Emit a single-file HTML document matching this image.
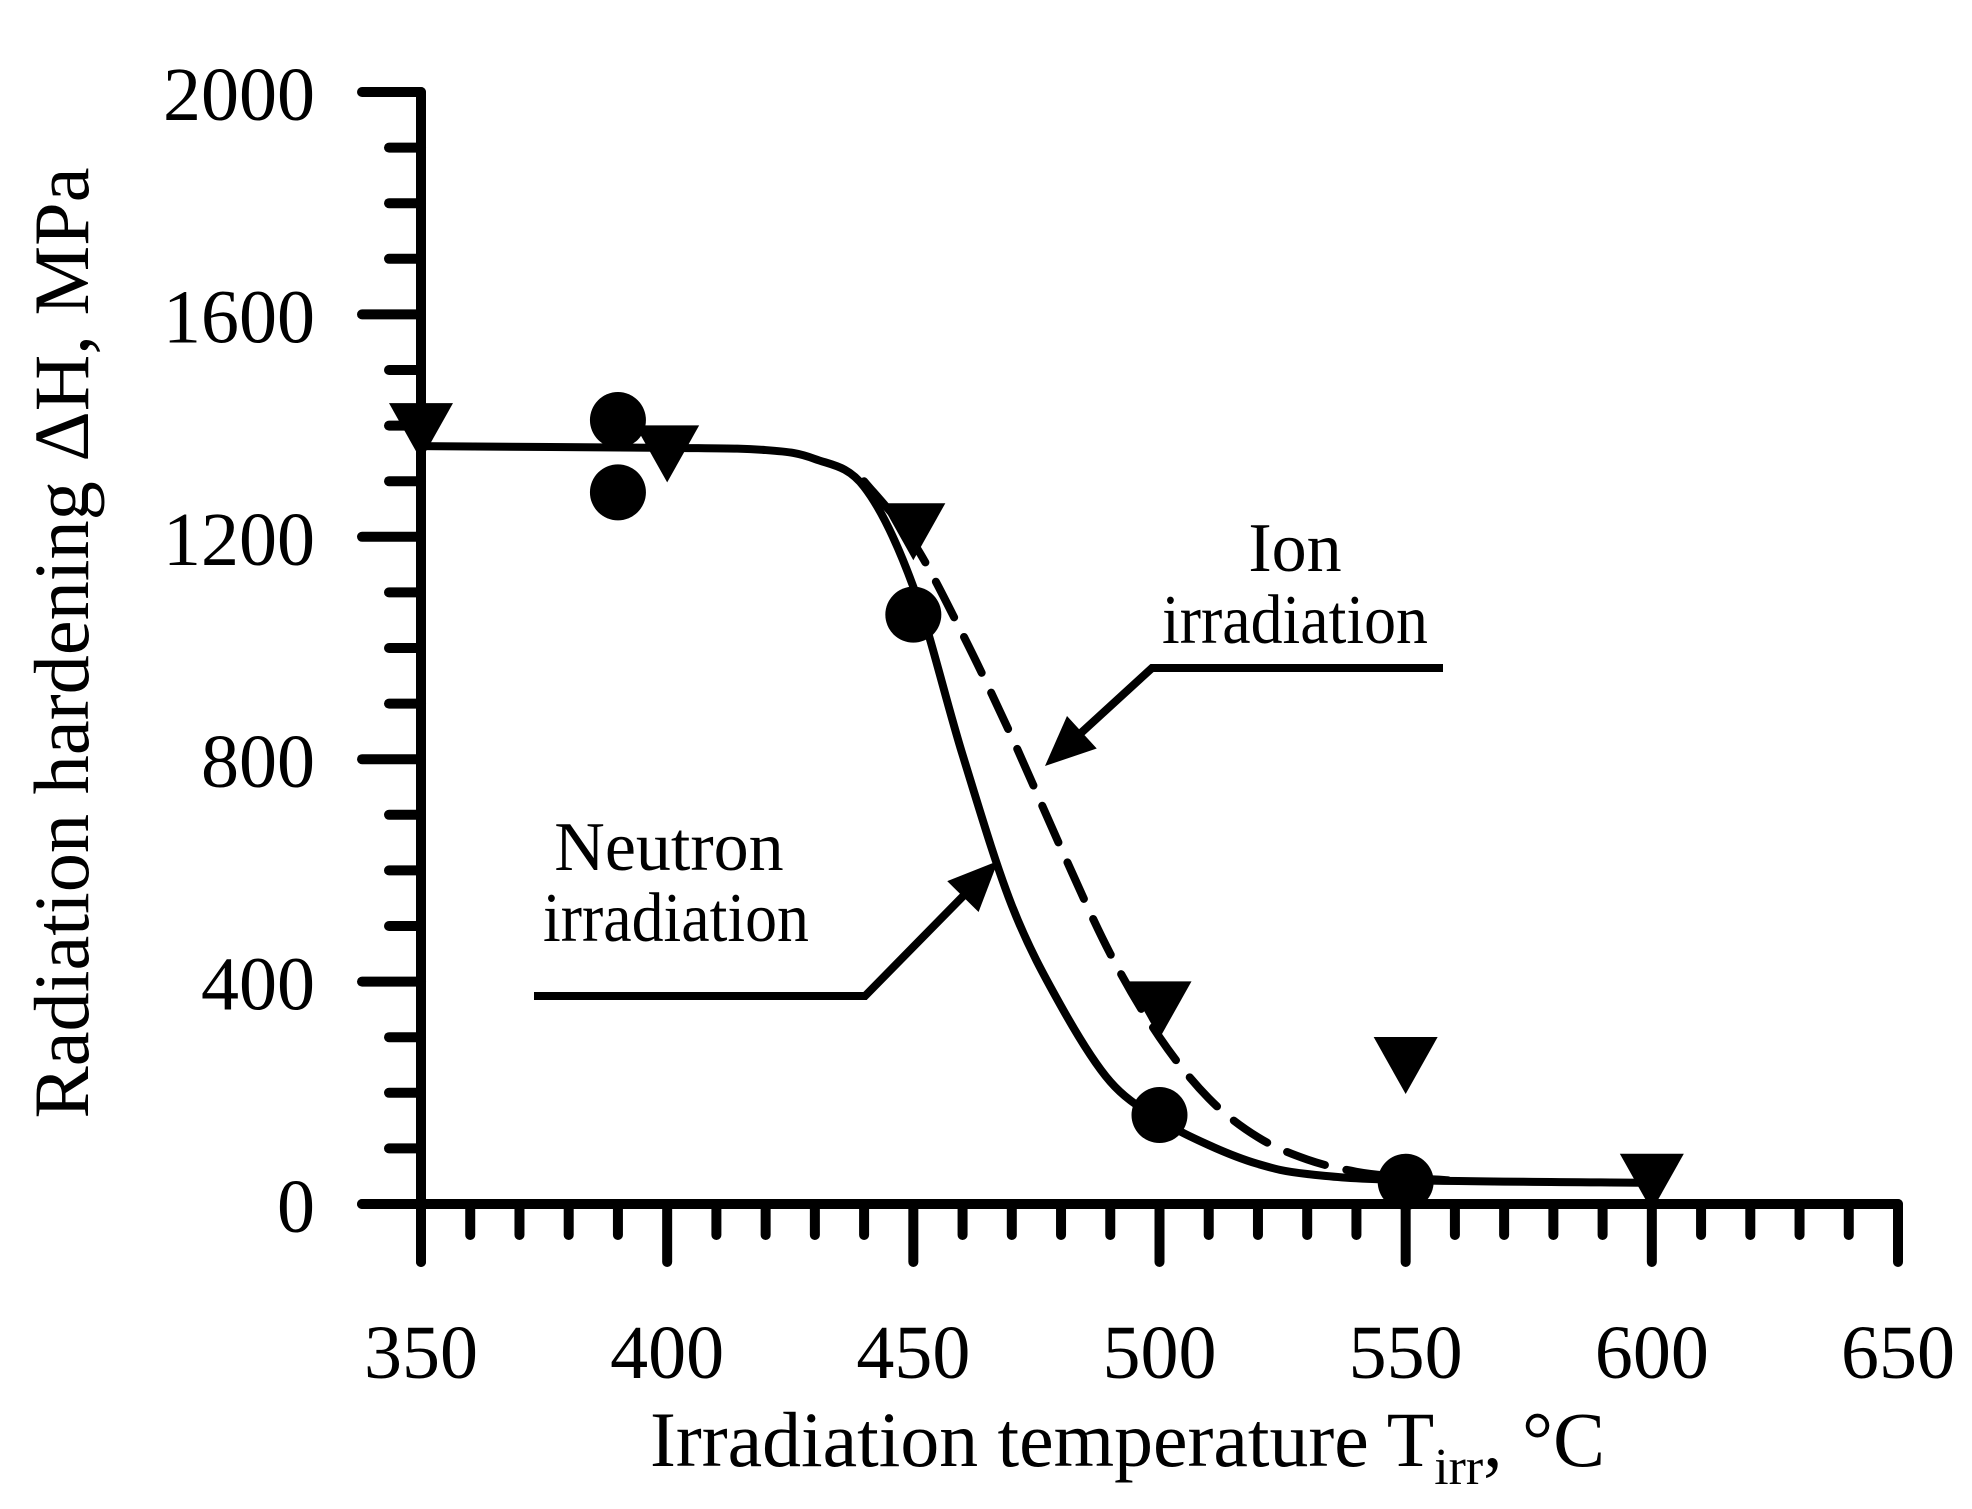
<!DOCTYPE html>
<html><head><meta charset="utf-8"><title>Radiation hardening</title>
<style>html,body{margin:0;padding:0;background:#fff}svg{display:block}</style></head>
<body>
<svg id="chart" width="1972" height="1509" viewBox="0 0 1972 1509" xmlns="http://www.w3.org/2000/svg" font-family="'Liberation Serif', serif"></svg>
<script>
const xTicks = [350, 400, 450, 500, 550, 600, 650];
const yTicks = [0, 400, 800, 1200, 1600, 2000];
const neutronX = [390, 390, 450, 500, 550];
const neutronY = [1410, 1280, 1060, 160, 40];
const ionX = [350, 400, 450, 500, 550, 600];
const ionY = [1390, 1350, 1210, 350, 250, 40];
const neutronFitX = [350, 400, 420, 430, 440, 450, 460, 470, 480, 490, 500, 510, 520, 530, 550, 600];
const neutronFitY = [1363, 1360, 1356, 1340, 1290, 1110, 808, 537, 356, 220, 152, 106, 72, 54, 43, 38];
const ionFitX = [440, 450, 460, 470, 480, 490, 500, 510, 520, 530, 540, 550, 560];
const ionFitY = [1300, 1190, 1025, 840, 640, 450, 300, 190, 120, 80, 58, 48, 42];

const NS = 'http://www.w3.org/2000/svg';
const svg = document.getElementById('chart');
const X0 = 421, X1 = 1898, Y0 = 1204, Y1 = 92;
function sx(v){ return X0 + (v - 350) / 300 * (X1 - X0); }
function sy(v){ return Y0 - v / 2000 * (Y0 - Y1); }
function mk(tag, attrs, parent){
  const e = document.createElementNS(NS, tag);
  for (const k in attrs) e.setAttribute(k, attrs[k]);
  (parent || svg).appendChild(e);
  return e;
}
function smooth(xs, ys){
  const p = xs.map((x,i)=>[sx(x), sy(ys[i])]);
  let d = 'M' + p[0][0] + ',' + p[0][1];
  for (let i = 0; i < p.length - 1; i++){
    const a = p[i-1] || p[i], b = p[i], c = p[i+1], e = p[i+2] || c;
    const c1 = [b[0] + (c[0]-a[0])/6, b[1] + (c[1]-a[1])/6];
    const c2 = [c[0] - (e[0]-b[0])/6, c[1] - (e[1]-b[1])/6];
    d += ' C' + c1[0] + ',' + c1[1] + ' ' + c2[0] + ',' + c2[1] + ' ' + c[0] + ',' + c[1];
  }
  return d;
}

const axes = mk('g', {stroke:'#000', 'stroke-width':10, 'stroke-linecap':'round', fill:'none'});


const yAxis = mk('line', {x1:X0, y1:Y1, x2:X0, y2:1262}, axes);


const xAxis = mk('line', {x1:362, y1:Y0, x2:X1, y2:Y0}, axes);


for (let v = 0; v <= 2000; v += 100){
  const major = v % 400 === 0;
  const t = mk('line', {x1: major ? 362 : 389, y1: sy(v), x2: X0, y2: sy(v)}, axes);
  
  
}
for (let v = 350; v <= 650; v += 10){
  const major = v % 50 === 0;
  const t = mk('line', {x1: sx(v), y1: Y0, x2: sx(v), y2: major ? 1262 : 1235}, axes);
  
  
}
yTicks.forEach(v=>{
  const t = mk('text', {x:315, y:sy(v)+28, 'text-anchor':'end', 'font-size':76});
  t.textContent = v;
  
  
});
xTicks.forEach(v=>{
  const t = mk('text', {x:sx(v), y:1378, 'text-anchor':'middle', 'font-size':76});
  t.textContent = v;
  
  
});
const xt = mk('text', {x:650, y:1466, 'font-size':78, textLength:955, lengthAdjust:'spacingAndGlyphs'});
xt.innerHTML = 'Irradiation temperature T<tspan font-size="52" dy="18">irr</tspan><tspan dy="-18">, °C</tspan>';


const yt = mk('text', {x:0, y:0, 'font-size':78, 'text-anchor':'middle', transform:'translate(88,643) rotate(-90)', textLength:951, lengthAdjust:'spacingAndGlyphs'});
yt.textContent = 'Radiation hardening ΔH, MPa';



const nf = mk('path', {d: smooth(neutronFitX, neutronFitY), fill:'none', stroke:'#000', 'stroke-width':8});


const inf = mk('path', {d: smooth(ionFitX, ionFitY), fill:'none', stroke:'#000', 'stroke-width':8, 'stroke-dasharray':'40 22', 'stroke-linecap':'round'});



neutronX.forEach((x,i)=>{
  const c = mk('circle', {cx:sx(x), cy:sy(neutronY[i]), r:28, fill:'#000'});
  
  
});
ionX.forEach((x,i)=>{
  const cx = sx(x), cy = sy(ionY[i]);
  const p = mk('polygon', {points: (cx-32)+','+(cy-28)+' '+(cx+32)+','+(cy-28)+' '+cx+','+(cy+29), fill:'#000'});
  
  
});

function arrow(pts, tip, from, name){
  const g = mk('g', {});
  
  
  mk('polyline', {points: pts, fill:'none', stroke:'#000', 'stroke-width':8}, g);
  const dx = tip[0]-from[0], dy = tip[1]-from[1], L = Math.hypot(dx,dy), ux = dx/L, uy = dy/L;
  const bx = tip[0]-ux*50, by = tip[1]-uy*50;
  mk('polygon', {points: tip[0]+','+tip[1]+' '+(bx-uy*22)+','+(by+ux*22)+' '+(bx+uy*22)+','+(by-ux*22), fill:'#000'}, g);
}
arrow('1443,668 1152,668 1070,743', [1045,766], [1152,668], 'ion-arrow');
arrow('534,996 865,996 975,884', [998,861], [865,996], 'neutron-arrow');
[['Ion',1295,571,null],['irradiation',1295,643,266],['Neutron',669,870,null],['irradiation',676,941,266]].forEach((a,i)=>{
  const t = mk('text', {x:a[1], y:a[2], 'text-anchor':'middle', 'font-size':70});
  if (a[3]) { t.setAttribute('textLength', a[3]); t.setAttribute('lengthAdjust','spacingAndGlyphs'); }
  t.textContent = a[0];
  
  
});
</script>
</body></html>
